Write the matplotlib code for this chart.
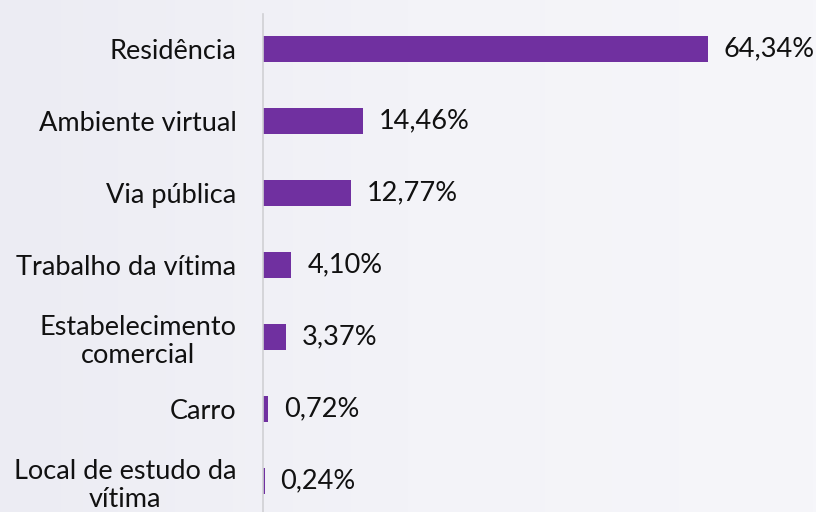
import matplotlib.pyplot as plt
import numpy as np
from matplotlib.colors import LinearSegmentedColormap

# Local de ocorrência (%)
categories = ["Residência", "Ambiente virtual", "Via pública", "Trabalho da vítima",
              "Estabelecimento\ncomercial", "Carro", "Local de estudo da\nvítima"]
values = [64.34, 14.46, 12.77, 4.10, 3.37, 0.72, 0.24]
value_labels = ["64,34%", "14,46%", "12,77%", "4,10%", "3,37%", "0,72%", "0,24%"]

plt.rcParams['font.family'] = ['Lato', 'DejaVu Sans']

fig = plt.figure(figsize=(8.16, 5.12), dpi=100)

# soft background gradient
bg = fig.add_axes([0, 0, 1, 1], zorder=-1)
grad = np.linspace(0, 1, 256).reshape(1, -1)
cmap = LinearSegmentedColormap.from_list("bg", ["#ececf3", "#f3f3f8", "#f6f6fa"])
bg.imshow(grad, aspect='auto', cmap=cmap, extent=[0, 1, 0, 1])
bg.axis('off')

ax = fig.add_axes([263/816, 0, 1 - 263/816, 1 - 14/512])
ax.patch.set_alpha(0)

y = np.arange(len(categories))
ax.barh(y, values, height=0.35, color="#7030a0")

for yi, v, lab in zip(y, values, value_labels):
    ax.text(v + 2.3, yi, lab, va='center', ha='left', fontsize=19.5, color="#111111")

ax.set_yticks(y)
ax.set_yticklabels(categories, fontsize=19.5, multialignment='center',
                   color="#111111", linespacing=1.15)
ax.tick_params(axis='y', length=0, pad=19)
ax.set_xticks([])
ax.set_xlim(0, 80)
ax.set_ylim(len(categories) - 1 + 0.43, -0.486)

for s in ['top', 'right', 'bottom']:
    ax.spines[s].set_visible(False)
ax.spines['left'].set_color("#d0d0d4")
ax.spines['left'].set_linewidth(1.2)

fig.savefig("out.png", dpi=100)
